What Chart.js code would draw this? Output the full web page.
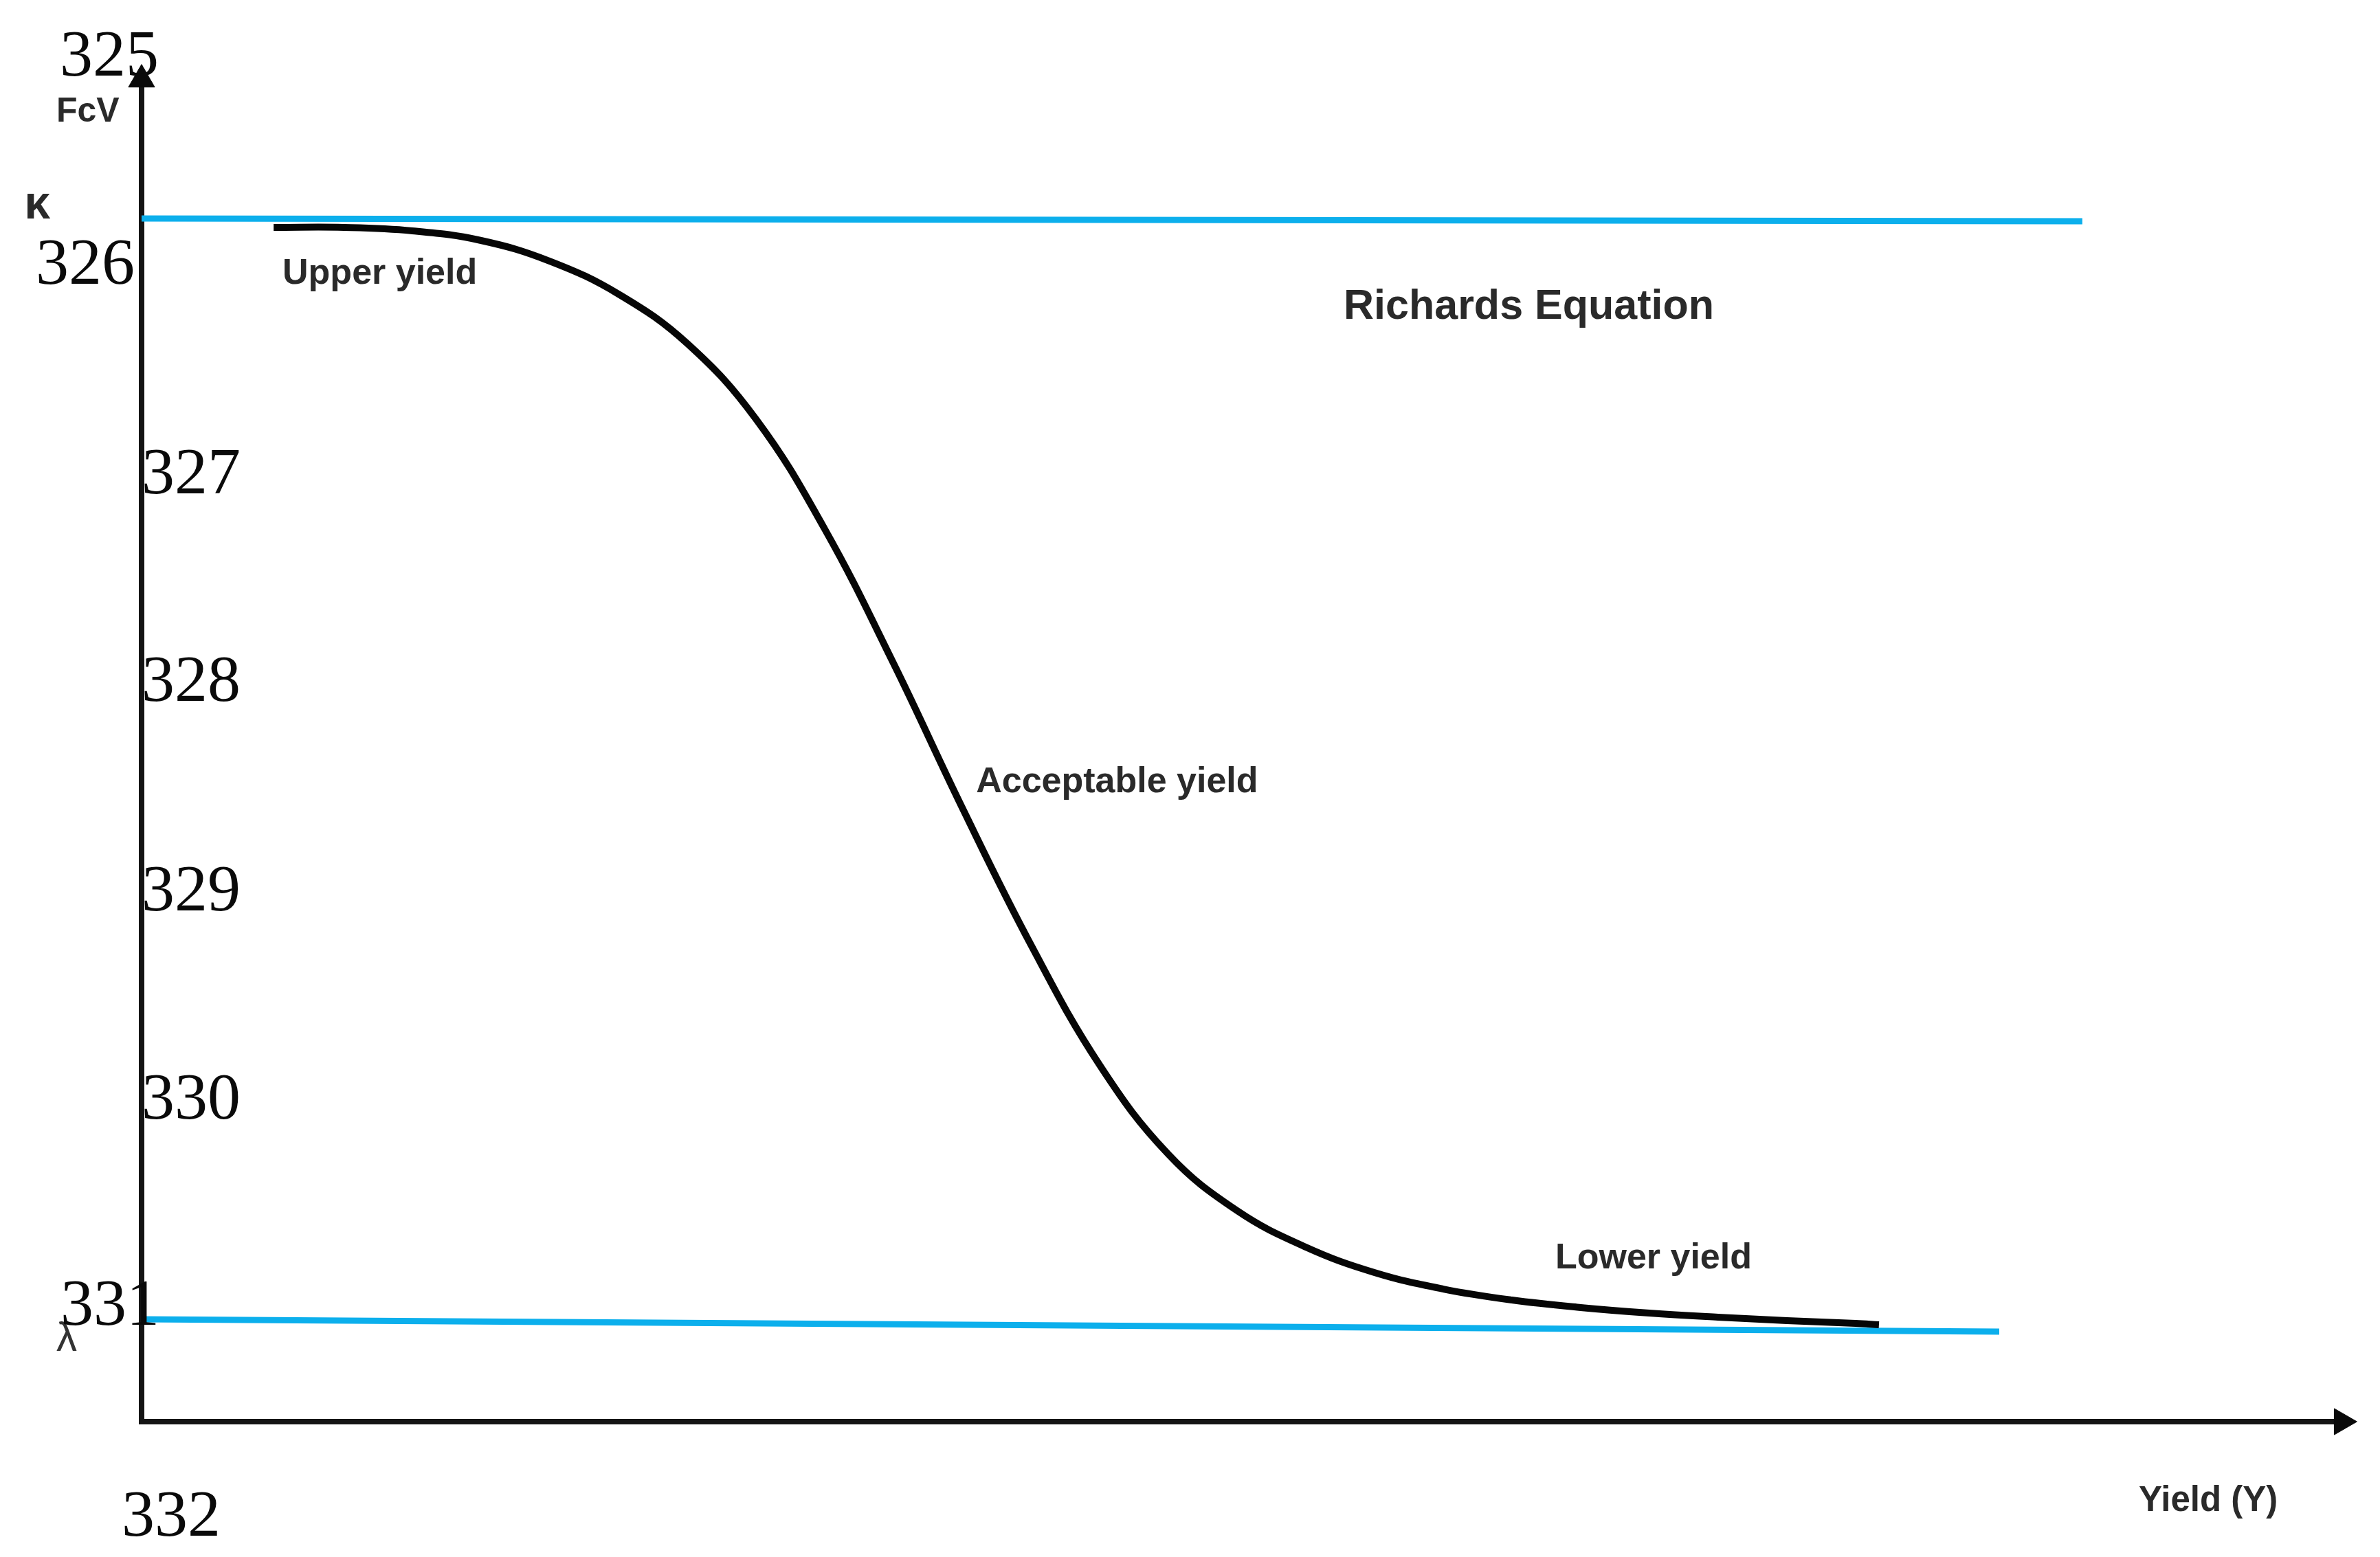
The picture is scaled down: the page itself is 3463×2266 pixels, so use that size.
<!DOCTYPE html>
<html>
<head>
<meta charset="utf-8">
<script src="https://cdn.jsdelivr.net/npm/chart.js@4.4.1/dist/chart.umd.min.js"></script>
<style>
  html, body { margin: 0; padding: 0; background: #ffffff; overflow: hidden; }
  #wrap { width: 3463px; height: 2266px; position: relative; }
</style>
</head>
<body>
<div id="wrap"><canvas id="c"></canvas></div>
<script>
// ---- Data (schematic units: x = Yield 0..100, y = FcV 0..100) ----
const curveX = [5.96, 9.12, 12.22, 15.32, 18.42, 21.53, 24.63, 27.73, 30.83, 33.93, 37.03, 40.14, 43.24, 46.34, 49.44, 52.54, 55.64, 58.75, 61.85, 64.95, 68.05, 71.15, 74.26, 77.36, 78.41];
const curveY = [87.91, 87.91, 87.66, 86.95, 85.43, 83.00, 79.36, 73.80, 65.71, 55.84, 45.22, 35.10, 26.25, 19.68, 15.53, 12.85, 10.98, 9.76, 8.95, 8.40, 7.99, 7.69, 7.44, 7.23, 7.13];

const upperAsymX = [0, 87.59];
const upperAsymY = [88.57, 88.37];
const lowerAsymX = [0, 83.84];
const lowerAsymY = [7.54, 6.63];

const yAxisX = [0, 0];
const yAxisY = [0, 98.8];
const xAxisX = [0, 99.3];
const xAxisY = [0, 0];

// manuscript line numbers overlaid on the figure
const lineNumbers = ['325', '326', '327', '328', '329', '330', '331', '332'];
const lineNumberX = [-3.69, -4.78, 0.0, 0.0, 0.0, 0.0, -3.66, -0.90];
const lineNumberY = [99.09, 83.76, 68.34, 53.06, 37.63, 22.31, 7.13, -8.40];

// text annotations
const labelTexts = ['FcV', 'κ', 'λ', 'Upper yield', 'Richards Equation', 'Acceptable yield', 'Lower yield', 'Yield (Y)'];
const labelX = [-3.85, -5.30, -3.85, 6.36, 54.25, 37.66, 63.80, 90.14];
const labelY = [95.70, 88.57, 5.21, 83.76, 81.18, 46.33, 11.28, -6.58];
const labelFonts = ['bold 50px "Liberation Sans", Arial, sans-serif',
                    'bold 68px "Liberation Sans", Arial, sans-serif',
                    '60px "Liberation Sans", Arial, sans-serif',
                    'bold 52px "Liberation Sans", Arial, sans-serif',
                    'bold 61px "Liberation Sans", Arial, sans-serif',
                    'bold 52px "Liberation Sans", Arial, sans-serif',
                    'bold 52px "Liberation Sans", Arial, sans-serif',
                    'bold 51px "Liberation Sans", Arial, sans-serif'];
const labelColors = ['#2a2a2a', '#2a2a2a', '#333333', '#2a2a2a', '#2a2a2a', '#2a2a2a', '#2a2a2a', '#2a2a2a'];

const zip = (xs, ys) => xs.map((x, i) => ({ x: x, y: ys[i] }));

const textPlugin = {
  id: 'figureText',
  afterDraw(chart) {
    const ctx = chart.ctx;
    const sx = chart.scales.x, sy = chart.scales.y;
    ctx.save();
    ctx.textAlign = 'left';
    ctx.textBaseline = 'alphabetic';
    labelTexts.forEach((t, i) => {
      ctx.font = labelFonts[i];
      ctx.fillStyle = labelColors[i];
      ctx.fillText(t, sx.getPixelForValue(labelX[i]), sy.getPixelForValue(labelY[i]));
    });
    ctx.font = '96px "Liberation Serif", "Times New Roman", serif';
    ctx.fillStyle = '#0a0a0a';
    lineNumbers.forEach((t, i) => {
      ctx.fillText(t, sx.getPixelForValue(lineNumberX[i]), sy.getPixelForValue(lineNumberY[i]));
    });
    ctx.restore();
  }
};

new Chart(document.getElementById('c'), {
  type: 'scatter',
  data: {
    datasets: [
      {
        label: 'Richards curve',
        data: zip(curveX, curveY),
        showLine: true,
        borderColor: '#060606',
        borderWidth: 10,
        pointRadius: 0,
        tension: 0.4,
        borderCapStyle: 'butt',
        clip: false,
        order: 1
      },
      {
        label: 'Upper asymptote',
        data: zip(upperAsymX, upperAsymY),
        showLine: true,
        borderColor: '#0cafec',
        borderWidth: 9,
        pointRadius: 0,
        clip: false,
        order: 2
      },
      {
        label: 'Lower asymptote',
        data: zip(lowerAsymX, lowerAsymY),
        showLine: true,
        borderColor: '#0cafec',
        borderWidth: 9,
        pointRadius: 0,
        clip: false,
        order: 2
      },
      {
        label: 'Y axis',
        data: zip(yAxisX, yAxisY),
        showLine: true,
        borderColor: '#141414',
        borderWidth: 8,
        borderCapStyle: 'square',
        pointRadius: [0, 22],
        pointStyle: 'triangle',
        rotation: 0,
        pointBackgroundColor: '#0a0a0a',
        pointBorderColor: '#0a0a0a',
        pointBorderWidth: 1,
        clip: false,
        order: 3
      },
      {
        label: 'X axis',
        data: zip(xAxisX, xAxisY),
        showLine: true,
        borderColor: '#141414',
        borderWidth: 8,
        borderCapStyle: 'square',
        pointRadius: [0, 22],
        pointStyle: 'triangle',
        rotation: 90,
        pointBackgroundColor: '#0a0a0a',
        pointBorderColor: '#0a0a0a',
        pointBorderWidth: 1,
        clip: false,
        order: 3
      }
    ]
  },
  options: {
    responsive: true,
    maintainAspectRatio: false,
    animation: false,
    layout: { padding: { left: 206, right: 33, top: 92, bottom: 197 } },
    scales: {
      x: { type: 'linear', min: 0, max: 100, display: false },
      y: { type: 'linear', min: 0, max: 100, display: false }
    },
    plugins: {
      legend: { display: false },
      tooltip: { enabled: false },
      title: { display: false }
    },
    events: []
  },
  plugins: [textPlugin]
});
</script>
</body>
</html>
